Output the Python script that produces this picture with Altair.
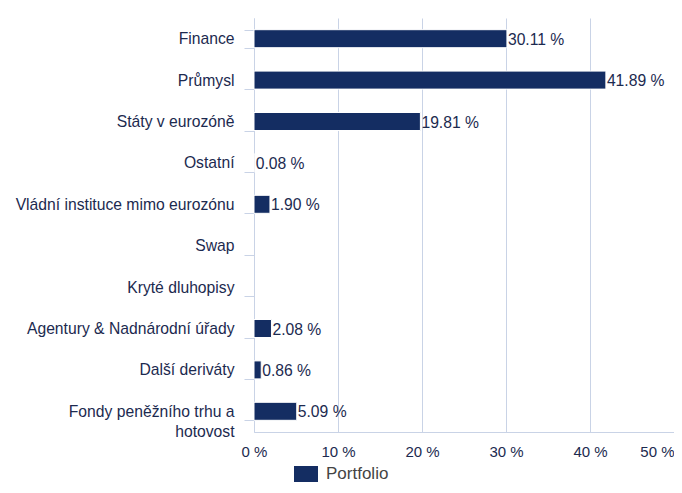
import altair as alt
import pandas as pd

categories = [
    "Finance",
    "Průmysl",
    "Státy v eurozóně",
    "Ostatní",
    "Vládní instituce mimo eurozónu",
    "Swap",
    "Kryté dluhopisy",
    "Agentury & Nadnárodní úřady",
    "Další deriváty",
    "Fondy peněžního trhu a hotovost",
]
values = [30.11, 41.89, 19.81, 0.08, 1.90, None, None, 2.08, 0.86, 5.09]
x_ticks = [0, 10, 20, 30, 40, 50]
series_name = "Portfolio"

df = pd.DataFrame({"cat": categories, "val": values, "series": series_name})
df["label"] = df["val"].map(lambda v: "" if pd.isna(v) else f"{v:.2f} %")

NAVY = "#142d62"
GRID = "#c9d3e6"
TEXT = "#1c2a4f"
FONT = "Liberation Sans"

y_enc = alt.Y(
    "cat:N",
    sort=categories,
    title=None,
    scale=alt.Scale(paddingInner=0.56, paddingOuter=0.28),
    axis=alt.Axis(
        tickBand="extent",
        tickSize=10,
        tickColor=GRID,
        domainColor=GRID,
        labelPadding=10,
        labelFontSize=15.7,
        labelFont=FONT,
        labelColor=TEXT,
        labelLimit=300,
        labelLineHeight=20,
        labelExpr="datum.label == 'Fondy peněžního trhu a hotovost' ? ['Fondy peněžního trhu a', 'hotovost'] : datum.label",
    ),
)

x_enc = alt.X(
    "val:Q",
    title=None,
    scale=alt.Scale(domain=[0, 50], nice=False),
    axis=alt.Axis(
        values=x_ticks,
        labelExpr="datum.value + ' %'",
        grid=True,
        gridColor=GRID,
        ticks=False,
        domainColor=GRID,
        labelPadding=12,
        labelFontSize=15,
        labelFont=FONT,
        labelColor=TEXT,
        labelAlign=alt.expr("datum.value == 50 ? 'right' : 'center'"),
    ),
)

bars = alt.Chart(df).mark_bar(size=18, stroke="white", strokeWidth=1).encode(
    y=y_enc,
    x=x_enc,
    color=alt.Color(
        "series:N",
        scale=alt.Scale(range=[NAVY]),
        legend=alt.Legend(
            title=None,
            orient="none",
            legendX=40,
            legendY=444,
            symbolType="M-1,-0.667H1V0.667H-1Z",
            symbolSize=576,
            symbolStrokeWidth=0,
            labelFontSize=17,
            labelFont=FONT,
            labelColor="#444444",
            labelOffset=8,
        ),
    ),
)

labels = alt.Chart(df).mark_text(
    align="left", baseline="middle", dx=1, dy=1, fontSize=15.7, font=FONT, color=TEXT
).encode(
    y=alt.Y("cat:N", sort=categories),
    x=alt.X("val:Q"),
    text="label:N",
).transform_filter("isValid(datum.val)")

chart = (
    alt.layer(bars, labels)
    .properties(
        width=420,
        height=414,
        autosize=alt.AutoSizeParams(type="none"),
        padding={"left": 246, "top": 10, "right": 0, "bottom": 52},
    )
    .configure_view(stroke=None)
)

chart.save("out.html", embed_options={"renderer": "svg", "actions": False})
